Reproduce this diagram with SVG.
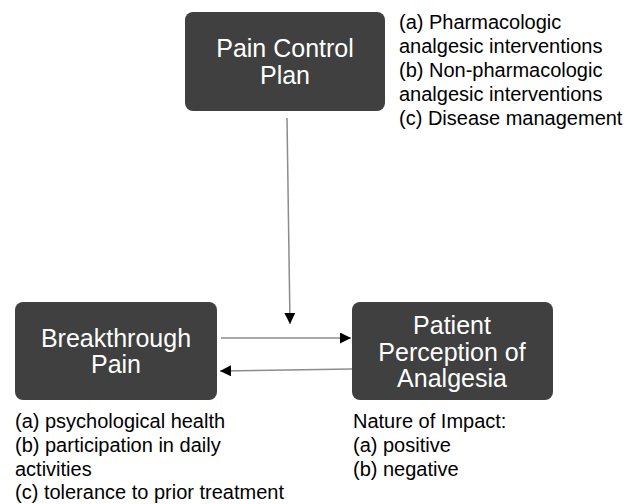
<svg xmlns="http://www.w3.org/2000/svg" width="634" height="504" viewBox="0 0 634 504">
<style>
.box{fill:#404040;}
.bt{font-family:"Liberation Sans",Arial,sans-serif;font-size:25px;fill:#ffffff;text-anchor:middle;}
.nt{font-family:"Liberation Sans",Arial,sans-serif;font-size:20px;fill:#000000;}
.ln{stroke:#8c8c8c;stroke-width:1.5;fill:none;}
</style>
<defs>
<marker id="ah" viewBox="0 0 10 10" refX="10" refY="5" markerWidth="11" markerHeight="11" markerUnits="userSpaceOnUse" orient="auto">
<path d="M0,0 L10,5 L0,10 z" fill="#000"/>
</marker>
</defs>
<rect width="634" height="504" fill="#fff"/>
<g id="pain-control-plan">
<rect class="box" x="185" y="12" width="200" height="99" rx="8"/>
<text class="bt" x="285" y="57">Pain Control</text>
<text class="bt" x="285" y="84">Plan</text>
<text class="nt" x="399" y="29">(a) Pharmacologic</text>
<text class="nt" x="399" y="53">analgesic interventions</text>
<text class="nt" x="399" y="77">(b) Non-pharmacologic</text>
<text class="nt" x="399" y="101">analgesic interventions</text>
<text class="nt" x="399" y="125">(c) Disease management</text>
</g>
<g id="breakthrough-pain">
<rect class="box" x="15" y="302" width="202" height="98" rx="8"/>
<text class="bt" x="116" y="347">Breakthrough</text>
<text class="bt" x="116" y="373">Pain</text>
<text class="nt" x="15" y="428">(a) psychological health</text>
<text class="nt" x="15" y="452">(b) participation in daily</text>
<text class="nt" x="15" y="476">activities</text>
<text class="nt" x="15" y="499">(c) tolerance to prior treatment</text>
</g>
<g id="patient-perception">
<rect class="box" x="352" y="302" width="201" height="98" rx="8"/>
<text class="bt" x="452" y="334">Patient</text>
<text class="bt" x="452" y="361">Perception of</text>
<text class="bt" x="452" y="387">Analgesia</text>
<text class="nt" x="353" y="428">Nature of Impact:</text>
<text class="nt" x="353" y="452">(a) positive</text>
<text class="nt" x="353" y="476">(b) negative</text>
</g>
<g id="connectors">
<line class="ln" x1="287" y1="118" x2="290" y2="324" marker-end="url(#ah)"/>
<line class="ln" x1="221" y1="338" x2="351" y2="338" marker-end="url(#ah)"/>
<line class="ln" x1="352" y1="369" x2="220" y2="371" marker-end="url(#ah)"/>
</g>
</svg>
